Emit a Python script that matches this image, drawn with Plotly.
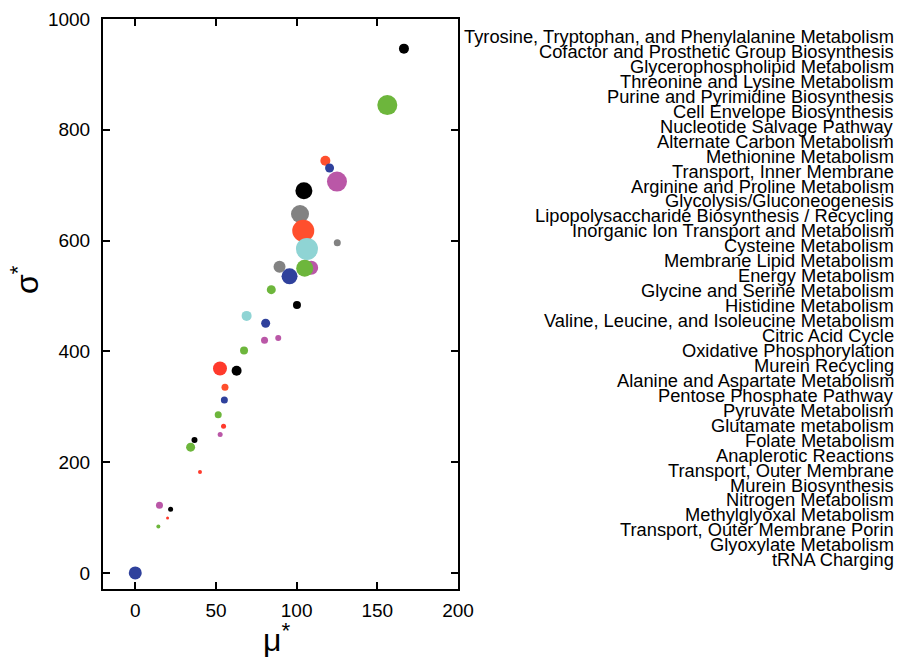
import plotly.graph_objects as go

# ---- data ----
mu = [166.5, 156.2, 117.8, 120.4, 125.0, 104.5, 102.1, 104.1, 125.2, 106.4,
      89.4, 109.0, 105.0, 95.6, 84.3, 100.2, 69.0, 80.8, 88.6, 80.1,
      67.4, 52.5, 62.8, 55.6, 55.2, 51.4, 54.7, 52.6, 36.7, 34.3,
      40.1, 15.0, 21.9, 20.0, 14.3, 0.0]
sigma = [946.5, 844.6, 744.0, 731.0, 706.5, 690.0, 648.0, 617.7, 596.0, 585.0,
         552.8, 551.0, 550.0, 535.4, 511.4, 483.7, 464.0, 450.7, 424.3, 420.0,
         401.5, 369.0, 365.0, 335.0, 312.0, 285.7, 265.0, 250.0, 240.0, 227.0,
         182.0, 122.4, 115.0, 99.0, 84.0, 0.0]
weight = [10, 20, 10, 9, 20, 17, 18, 22, 7, 22,
          12, 14, 17, 16, 9, 8, 10, 9, 6, 7,
          8, 14, 10, 7, 7, 7, 5, 5, 6, 9,
          4, 7, 5, 3, 4, 13]
group = ["black", "green", "orange", "blue", "magenta", "black", "gray", "orange", "gray", "cyan",
         "gray", "magenta", "green", "blue", "green", "black", "cyan", "blue", "magenta", "magenta",
         "green", "red", "black", "orange", "blue", "green", "red", "magenta", "black", "green",
         "red", "magenta", "black", "red", "green", "blue"]

labels = [
    "Tyrosine, Tryptophan, and Phenylalanine Metabolism",
    "Cofactor and Prosthetic Group Biosynthesis",
    "Glycerophospholipid Metabolism",
    "Threonine and Lysine Metabolism",
    "Purine and Pyrimidine Biosynthesis",
    "Cell Envelope Biosynthesis",
    "Nucleotide Salvage Pathway",
    "Alternate Carbon Metabolism",
    "Methionine Metabolism",
    "Transport, Inner Membrane",
    "Arginine and Proline Metabolism",
    "Glycolysis/Gluconeogenesis",
    "Lipopolysaccharide Biosynthesis / Recycling",
    "Inorganic Ion Transport and Metabolism",
    "Cysteine Metabolism",
    "Membrane Lipid Metabolism",
    "Energy Metabolism",
    "Glycine and Serine Metabolism",
    "Histidine Metabolism",
    "Valine, Leucine, and Isoleucine Metabolism",
    "Citric Acid Cycle",
    "Oxidative Phosphorylation",
    "Murein Recycling",
    "Alanine and Aspartate Metabolism",
    "Pentose Phosphate Pathway",
    "Pyruvate Metabolism",
    "Glutamate metabolism",
    "Folate Metabolism",
    "Anaplerotic Reactions",
    "Transport, Outer Membrane",
    "Murein Biosynthesis",
    "Nitrogen Metabolism",
    "Methylglyoxal Metabolism",
    "Transport, Outer Membrane Porin",
    "Glyoxylate Metabolism",
    "tRNA Charging",
]

x_ticks = [0, 50, 100, 150, 200]
y_ticks = [0, 200, 400, 600, 800, 1000]

palette = {
    "black": "#000000",
    "green": "#6db63c",
    "orange": "#ff4f2d",
    "red": "#ff3a2c",
    "blue": "#2f419c",
    "magenta": "#ba57a7",
    "gray": "#828282",
    "cyan": "#8fd4d4",
}

FONT = "Liberation Sans, Arial, sans-serif"

fig = go.Figure()
fig.add_trace(go.Scatter(
    x=mu, y=sigma, mode="markers",
    text=labels,
    marker=dict(size=weight, color=[palette[g] for g in group], line=dict(width=0), opacity=1),
    showlegend=False,
    hovertemplate="%{text}<br>μ*=%{x}<br>σ*=%{y}<extra></extra>",
))

W, H = 899, 657
plot_l, plot_r, plot_t, plot_b = 103, 458, 19, 589   # page pixels
ml, mt = plot_l, plot_t
mr, mb = W - plot_r, H - plot_b
pw, ph = plot_r - plot_l, plot_b - plot_t

def px_to_paper_x(px):
    return (px - plot_l) / pw

def px_to_paper_y(py):
    return (plot_b - py) / ph

annotations = []
for i, lab in enumerate(labels):
    annotations.append(dict(
        text=lab, xref="paper", yref="paper",
        x=px_to_paper_x(896), y=px_to_paper_y(36.5 + 14.95 * i),
        xanchor="right", yanchor="middle", showarrow=False,
        font=dict(family=FONT, size=18.3, color="black"),
    ))

annotations.append(dict(
    text="μ<sup>*</sup>", xref="paper", yref="paper",
    x=px_to_paper_x(276), y=px_to_paper_y(638), xanchor="center", yanchor="middle",
    showarrow=False, font=dict(family=FONT, size=32, color="black"),
))
annotations.append(dict(
    text="σ<sup>*</sup>", xref="paper", yref="paper",
    x=px_to_paper_x(25), y=px_to_paper_y(280), xanchor="center", yanchor="middle",
    textangle=-90, showarrow=False, font=dict(family=FONT, size=32, color="black"),
))

axis_common = dict(
    showgrid=False, zeroline=False, showline=True, linecolor="black", linewidth=2,
    mirror="ticks", ticks="inside", ticklen=7, tickwidth=1.5, tickcolor="black",
    automargin=False,
    tickfont=dict(family=FONT, size=19, color="black"),
)

fig.update_layout(
    width=W, height=H,
    margin=dict(l=ml, r=mr, t=mt, b=mb, autoexpand=False),
    paper_bgcolor="white", plot_bgcolor="white",
    xaxis=dict(range=[-20, 200], tickvals=x_ticks, ticklabelstandoff=3, **axis_common),
    yaxis=dict(range=[-29, 1000], tickvals=y_ticks, ticklabelstandoff=7, **axis_common),
    annotations=annotations,
)

fig.write_html(
    "out.html",
    config={"displayModeBar": False},
    post_script="document.body.style.margin='0px';document.body.style.overflow='hidden';",
)
